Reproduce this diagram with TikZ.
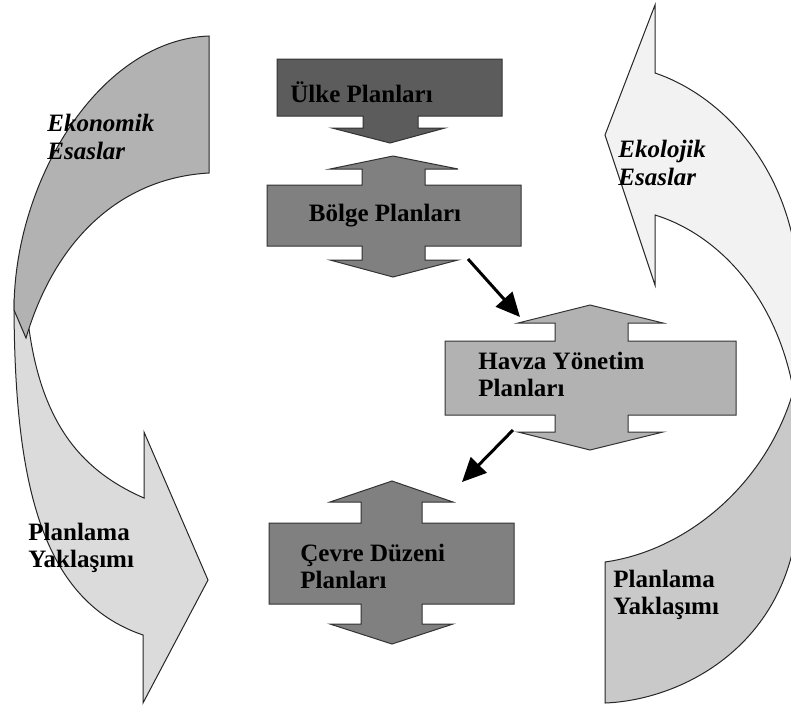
\documentclass[tikz,border=0pt]{standalone}
\usepackage{fontspec}
\setmainfont{Liberation Serif}
\usetikzlibrary{arrows.meta}

\definecolor{ulkefill}{gray}{0.36}
\definecolor{bolgefill}{gray}{0.50}
\definecolor{havzafill}{gray}{0.70}
\definecolor{cevrefill}{gray}{0.50}
\definecolor{ekonfill}{gray}{0.70}
\definecolor{ekonlow}{gray}{0.86}
\definecolor{ekolfill}{gray}{0.95}
\definecolor{ekollow}{gray}{0.79}

\tikzset{
  planshape/.style={draw=black!80, line width=0.5pt},
  loopshape/.style={draw=black!85, line width=0.5pt},
  plantext/.style={font=\fontsize{12.5}{13.5}\selectfont\bfseries, align=left, inner sep=0pt},
  looptext/.style={plantext, font=\fontsize{12.5}{14}\selectfont\bfseries\itshape},
  flowarrow/.style={line width=1.5pt, -{Triangle[length=12pt,width=11pt]}}
}

\begin{document}
\begin{tikzpicture}[x=0.5pt, y=-0.5pt]
  \useasboundingbox (0,0) rectangle (791,709);
  \clip (0,0) rectangle (791,709);

  % left loop
  \draw[loopshape, fill=ekonlow] (14,300) .. controls (14,480) and (40,600) .. (143,635)
    -- (143,703) -- (208,580) -- (144,432) -- (144,498)
    .. controls (80,470) and (35,420) .. (26,300) -- cycle;
  \draw[loopshape, fill=ekonfill] (209,36) -- (209,173)
    .. controls (120,178) and (55,240) .. (26,338) -- (14,310)
    .. controls (14,180) and (100,40) .. (209,36) -- cycle;

  % right loop
  \draw[loopshape, fill=ekolfill] (655,5) -- (605,135) -- (655,285) -- (655,215)
    .. controls (720,235) and (780,300) .. (795,400) -- (795,250)
    .. controls (780,160) and (720,95) .. (655,73) -- cycle;
  \draw[loopshape, fill=ekollow] (605,562) -- (605,703)
    .. controls (680,700) and (775,650) .. (795,540) -- (795,385)
    .. controls (770,480) and (690,550) .. (605,562) -- cycle;

  % plan boxes
  \draw[planshape, fill=ulkefill] (277,59) -- (502,59) -- (502,116) -- (418,116) -- (418,128)
    -- (445,128) -- (390,143) -- (332,128) -- (363,128) -- (363,116) -- (277,116) -- cycle;
  \draw[planshape, fill=bolgefill] (267,185) -- (362,185) -- (362,169) -- (330,169) -- (393,156)
    -- (458,169) -- (425,169) -- (425,185) -- (521,185) -- (521,246) -- (425,246) -- (425,260)
    -- (458,260) -- (393,277) -- (330,260) -- (362,260) -- (362,246) -- (267,246) -- cycle;
  \draw[planshape, fill=havzafill] (445,341) -- (555,341) -- (555,323) -- (518,323) -- (590,305)
    -- (663,323) -- (628,323) -- (628,341) -- (736,341) -- (736,415) -- (628,415) -- (628,432)
    -- (663,432) -- (590,450) -- (518,432) -- (555,432) -- (555,415) -- (445,415) -- cycle;
  \draw[planshape, fill=cevrefill] (269,523) -- (361,523) -- (361,502) -- (330,502) -- (392,481)
    -- (453,502) -- (422,502) -- (422,523) -- (514,523) -- (514,604) -- (422,604) -- (422,624)
    -- (453,624) -- (392,644) -- (330,624) -- (361,624) -- (361,604) -- (269,604) -- cycle;

  \node[plantext, anchor=base west] (ulke) at (290,102) {Ülke Planları};
  \node[plantext, anchor=base] (bolge) at (385,221) {Bölge Planları};
  \node[plantext, anchor=west] (havza) at (478,374) {Havza Yönetim\\Planları};
  \node[plantext, anchor=west] (cevre) at (300,566) {Çevre Düzeni\\Planları};

  \node[looptext, anchor=west] (ekonomik) at (47,137) {Ekonomik\\Esaslar};
  \node[looptext, anchor=west] (ekolojik) at (618,163) {Ekolojik\\Esaslar};
  \node[plantext, anchor=west] (yaklasim1) at (28,548) {Planlama\\Yaklaşımı};
  \node[plantext, anchor=west] (yaklasim2) at (613,595) {Planlama\\Yaklaşımı};

  % flow between plans
  \coordinate (bolge-out) at (468,259);
  \coordinate (havza-in) at (520,317);
  \coordinate (havza-out) at (513,430);
  \coordinate (cevre-in) at (462,482);
  \draw[flowarrow] (bolge-out) -- (havza-in);
  \draw[flowarrow] (havza-out) -- (cevre-in);
\end{tikzpicture}
\end{document}
